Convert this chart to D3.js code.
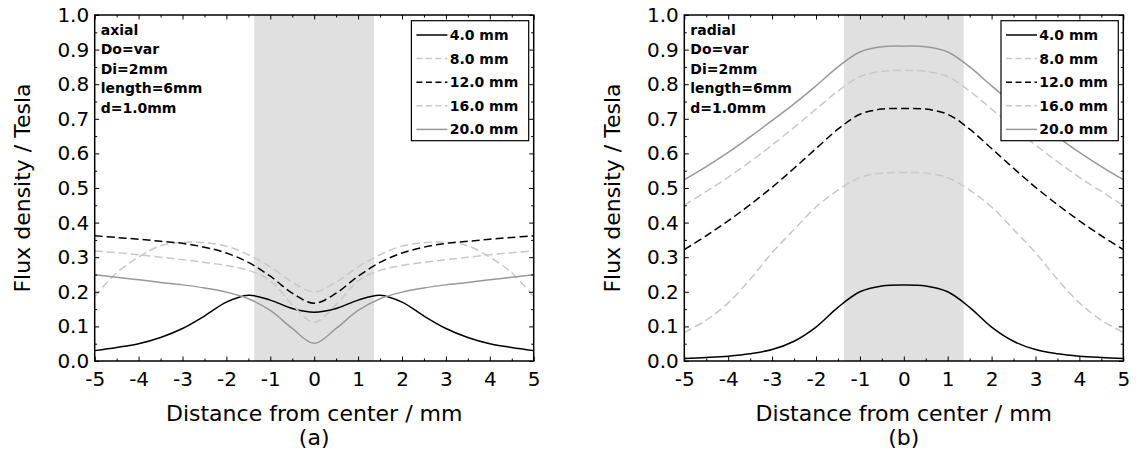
<!DOCTYPE html>
<html>
<head>
<meta charset="utf-8">
<script src="https://cdn.jsdelivr.net/npm/d3@7"></script>
<style>
  body { margin: 0; background: #fff; }
  svg { display: block; }
  text { font-family: "DejaVu Sans", sans-serif; }
</style>
</head>
<body>
<div id="chart"></div>
<script>
// sample positions along the axis (mm)
var xs = [-5, -4.5, -4, -3.5, -3, -2.5, -2, -1.5, -1, -0.5, 0, 0.5, 1, 1.5, 2, 2.5, 3, 3.5, 4, 4.5, 5];

// axial component, one list per outer diameter
var axial4  = [0.030, 0.039, 0.050, 0.068, 0.094, 0.130, 0.170, 0.190, 0.176, 0.152, 0.141, 0.152, 0.176, 0.190, 0.170, 0.130, 0.094, 0.068, 0.050, 0.039, 0.030];
var axial8  = [0.186, 0.255, 0.300, 0.333, 0.343, 0.342, 0.332, 0.307, 0.272, 0.228, 0.200, 0.228, 0.272, 0.307, 0.332, 0.342, 0.343, 0.333, 0.300, 0.255, 0.186];
var axial12 = [0.362, 0.357, 0.352, 0.346, 0.340, 0.329, 0.312, 0.285, 0.245, 0.196, 0.167, 0.196, 0.245, 0.285, 0.312, 0.329, 0.340, 0.346, 0.352, 0.357, 0.362];
var axial16 = [0.318, 0.313, 0.307, 0.300, 0.293, 0.285, 0.276, 0.262, 0.232, 0.163, 0.112, 0.163, 0.232, 0.262, 0.276, 0.285, 0.293, 0.300, 0.307, 0.313, 0.318];
var axial20 = [0.249, 0.242, 0.235, 0.227, 0.220, 0.211, 0.199, 0.180, 0.146, 0.094, 0.051, 0.094, 0.146, 0.180, 0.199, 0.211, 0.220, 0.227, 0.235, 0.242, 0.249];

// radial component
var radial4  = [0.007, 0.010, 0.014, 0.021, 0.033, 0.057, 0.098, 0.155, 0.200, 0.217, 0.220, 0.217, 0.200, 0.155, 0.098, 0.057, 0.033, 0.021, 0.014, 0.010, 0.007];
var radial8  = [0.083, 0.118, 0.168, 0.236, 0.313, 0.380, 0.445, 0.494, 0.530, 0.543, 0.545, 0.543, 0.530, 0.494, 0.445, 0.380, 0.313, 0.236, 0.168, 0.118, 0.083];
var radial12 = [0.322, 0.362, 0.405, 0.452, 0.502, 0.557, 0.614, 0.670, 0.713, 0.728, 0.730, 0.728, 0.713, 0.670, 0.614, 0.557, 0.502, 0.452, 0.405, 0.362, 0.322];
var radial16 = [0.450, 0.490, 0.531, 0.576, 0.624, 0.675, 0.728, 0.780, 0.822, 0.837, 0.840, 0.837, 0.822, 0.780, 0.728, 0.675, 0.624, 0.576, 0.531, 0.490, 0.450];
var radial20 = [0.524, 0.562, 0.603, 0.648, 0.695, 0.743, 0.795, 0.850, 0.893, 0.908, 0.910, 0.908, 0.893, 0.850, 0.795, 0.743, 0.695, 0.648, 0.603, 0.562, 0.524];

var sizes = ["4.0 mm", "8.0 mm", "12.0 mm", "16.0 mm", "20.0 mm"];
var notes = ["Do=var", "Di=2mm", "length=6mm", "d=1.0mm"];
var xTicks = [-5, -4, -3, -2, -1, 0, 1, 2, 3, 4, 5];
var yTicks = [0, 0.1, 0.2, 0.3, 0.4, 0.5, 0.6, 0.7, 0.8, 0.9, 1.0];
var xMinor = [-4.5, -3.5, -2.5, -1.5, -0.5, 0.5, 1.5, 2.5, 3.5, 4.5];
var yMinor = [0.05, 0.15, 0.25, 0.35, 0.45, 0.55, 0.65, 0.75, 0.85, 0.95];
var shadeRange = [-1.365, 1.365];

// line look per diameter
var colors = ["#000", "#c8c8c8", "#000", "#c8c8c8", "#999"];
var dashes = [null, "8,4", "8,4", "8,4", null];

var panels = [
    { left: 94.7, name: "axial", caption: "(a)", series: [axial4, axial8, axial12, axial16, axial20] },
    { left: 684.3, name: "radial", caption: "(b)", series: [radial4, radial8, radial12, radial16, radial20] }
];

var width = 439, height = 346, marginTop = 15;

var svg = d3.select("#chart")
    .append("svg")
    .attr("width", 1138)
    .attr("height", 467);

var x = d3.scaleLinear().domain([-5, 5]).range([0, width]);
var y = d3.scaleLinear().domain([0, 1]).range([height, 0]);

panels.forEach(function (p, pi) {
    var g = svg.append("g")
        .attr("transform", "translate(" + p.left + "," + marginTop + ")");

    g.append("clipPath")
        .attr("id", "clip" + pi)
        .append("rect")
        .attr("width", width)
        .attr("height", height);

    // shaded magnet region
    g.append("rect")
        .attr("x", x(shadeRange[0]))
        .attr("y", 0)
        .attr("width", x(shadeRange[1]) - x(shadeRange[0]))
        .attr("height", height)
        .attr("fill", "#e0e0e0");

    var line = d3.line()
        .x(function (d, i) { return x(xs[i]); })
        .y(function (d) { return y(d); })
        .curve(d3.curveCatmullRom.alpha(0.5));

    g.append("g")
        .attr("clip-path", "url(#clip" + pi + ")")
        .selectAll("path")
        .data(p.series)
        .enter()
        .append("path")
        .attr("d", line)
        .attr("fill", "none")
        .attr("stroke", function (d, i) { return colors[i]; })
        .attr("stroke-width", 1.5)
        .attr("stroke-dasharray", function (d, i) { return dashes[i]; });

    // axes, ticks pointing inward
    var fmtX = function (d) { return String(d); };
    var fmtY = d3.format(".1f");

    g.append("g")
        .attr("transform", "translate(0," + height + ")")
        .call(d3.axisBottom(x).tickValues(xTicks).tickFormat(fmtX)
            .tickSizeInner(-4.5).tickSizeOuter(0).tickPadding(11));
    g.append("g")
        .call(d3.axisLeft(y).tickValues(yTicks).tickFormat(fmtY)
            .tickSizeInner(-4.5).tickSizeOuter(0).tickPadding(5.5));
    g.append("g")
        .call(d3.axisTop(x).tickValues(xTicks).tickFormat("")
            .tickSizeInner(-4.5).tickSizeOuter(0));
    g.append("g")
        .attr("transform", "translate(" + width + ",0)")
        .call(d3.axisRight(y).tickValues(yTicks).tickFormat("")
            .tickSizeInner(-4.5).tickSizeOuter(0));

    // minor ticks
    g.append("g")
        .attr("transform", "translate(0," + height + ")")
        .call(d3.axisBottom(x).tickValues(xMinor).tickFormat("").tickSizeInner(-2.5).tickSizeOuter(0));
    g.append("g")
        .call(d3.axisTop(x).tickValues(xMinor).tickFormat("").tickSizeInner(-2.5).tickSizeOuter(0));
    g.append("g")
        .call(d3.axisLeft(y).tickValues(yMinor).tickFormat("").tickSizeInner(-2.5).tickSizeOuter(0));
    g.append("g")
        .attr("transform", "translate(" + width + ",0)")
        .call(d3.axisRight(y).tickValues(yMinor).tickFormat("").tickSizeInner(-2.5).tickSizeOuter(0));

    g.selectAll(".domain").remove();
    g.selectAll(".tick line").attr("stroke", "#000").attr("stroke-width", 1);
    g.selectAll(".tick text")
        .attr("font-family", "DejaVu Sans")
        .attr("font-size", "20px")
        .attr("fill", "#000");

    // frame
    g.append("rect")
        .attr("width", width)
        .attr("height", height)
        .attr("fill", "none")
        .attr("stroke", "#000")
        .attr("stroke-width", 1.5);

    // axis titles
    g.append("text")
        .attr("x", width / 2)
        .attr("y", 420.7 - marginTop)
        .attr("text-anchor", "middle")
        .attr("font-size", "22px")
        .text("Distance from center / mm");

    g.append("text")
        .attr("transform", "translate(-64.7," + height / 2 + ") rotate(-90)")
        .attr("text-anchor", "middle")
        .attr("font-size", "22px")
        .text("Flux density / Tesla");

    g.append("text")
        .attr("x", width / 2)
        .attr("y", 445 - marginTop)
        .attr("text-anchor", "middle")
        .attr("font-size", "22px")
        .text(p.caption);

    // notes in the top left corner
    g.selectAll(".note")
        .data([p.name].concat(notes))
        .enter()
        .append("text")
        .attr("class", "note")
        .attr("x", 6)
        .attr("y", function (d, i) { return 20 + i * 19.4; })
        .attr("font-size", "14px")
        .attr("font-weight", "bold")
        .text(function (d) { return d; });

    // legend
    var lg = g.append("g")
        .attr("transform", "translate(" + (width - 122.3) + ",5.7)");
    lg.append("rect")
        .attr("width", 117.3)
        .attr("height", 120)
        .attr("fill", "#fff")
        .attr("stroke", "#000")
        .attr("stroke-width", 1.2);
    var rows = lg.selectAll(".row")
        .data(sizes)
        .enter()
        .append("g")
        .attr("class", "row")
        .attr("transform", function (d, i) { return "translate(0," + (14.3 + i * 23.6) + ")"; });
    rows.append("line")
        .attr("x1", 5)
        .attr("x2", 36)
        .attr("stroke", function (d, i) { return colors[i]; })
        .attr("stroke-width", 1.5)
        .attr("stroke-dasharray", function (d, i) { return dashes[i] ? "6,3.5" : null; });
    rows.append("text")
        .attr("x", 38.3)
        .attr("dy", "0.36em")
        .attr("font-size", "14px")
        .attr("font-weight", "bold")
        .text(function (d) { return d; });
});
</script>
</body>
</html>
